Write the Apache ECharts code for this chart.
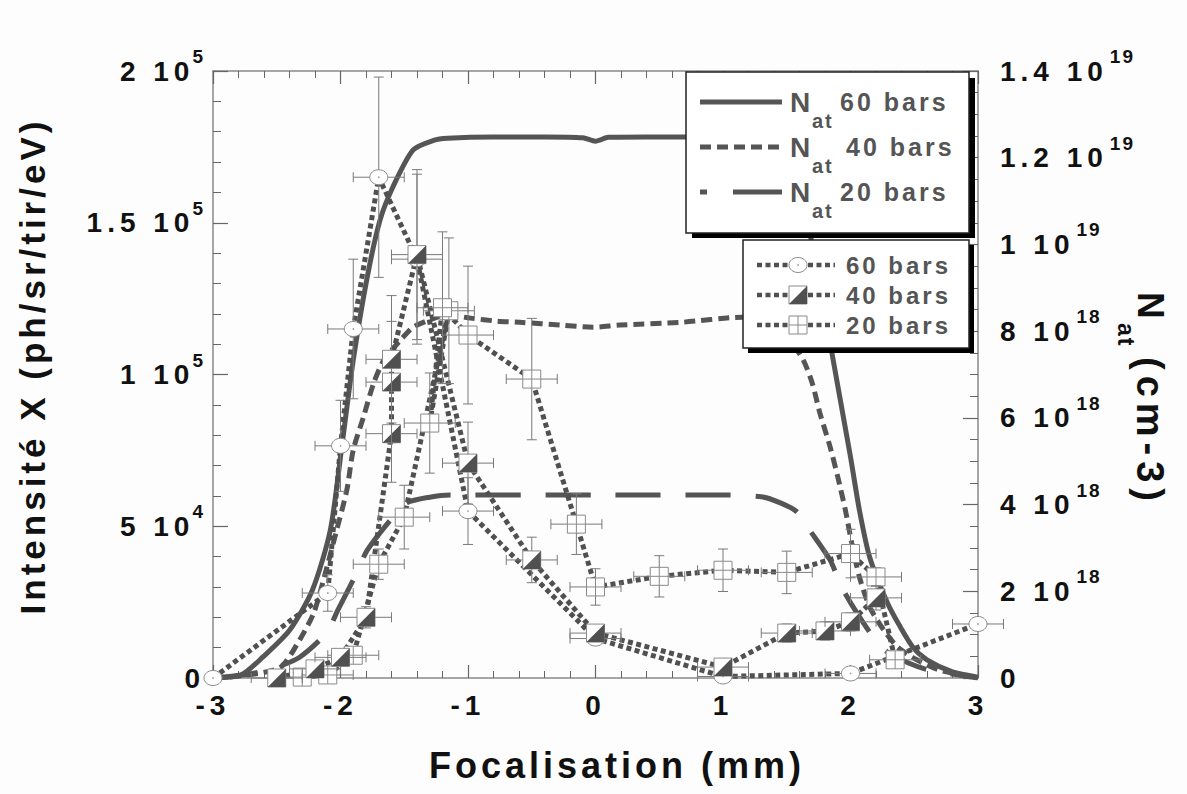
<!DOCTYPE html>
<html><head><meta charset="utf-8">
<script src="https://cdn.jsdelivr.net/npm/echarts@6/dist/echarts.min.js"></script>
<style>
html,body{margin:0;padding:0;background:#fdfdfd;}
#c{width:1187px;height:794px;}
</style></head><body><div id="c"></div>
<script>
// ---------- experimental data: X-ray intensity (ph/sr/tir/eV) vs focus (mm) ----------
const focal60 = [-3, -2.1, -2.0, -1.9, -1.7, -1.4, -1.0, 0, 1, 2, 3];
const intens60 = [0, 28000, 76500, 115000, 165000, 138000, 55000, 13000, 500, 1500, 17800];
const xErr60 = [0, 0.2, 0.2, 0.2, 0.2, 0.2, 0.2, 0.2, 0.2, 0.2, 0.2];
const yErr60 = [0, 6000, 15000, 23000, 33000, 28000, 11000, 2000, 1000, 1000, 2000];

const focal40 = [-2.5, -2.2, -2.0, -1.8, -1.6, -1.6, -1.6, -1.4, -1.0, -0.5, 0, 1, 1.5, 1.8, 2.0, 2.2];
const intens40 = [0, 3000, 6800, 20000, 80500, 97500, 105000, 139500, 70800, 38900, 14800, 3600, 14800, 15500, 18500, 26400];
const xErr40 = [0.2, 0.2, 0.2, 0.2, 0.2, 0.2, 0.2, 0.2, 0.2, 0.2, 0.2, 0.2, 0.2, 0.2, 0.2, 0.2];
const yErr40 = [800, 1500, 2000, 3500, 16000, 20000, 21000, 28000, 13500, 7500, 2000, 2000, 3000, 3000, 3000, 4000];

const focal20 = [-2.3, -2.1, -1.9, -1.7, -1.5, -1.15, -1.3, -1.2, -1.0, -0.5, -0.15, 0, 0.5, 1.0, 1.5, 2.0, 2.2, 2.35];
const intens20 = [300, 1000, 7500, 37500, 53000, 121000, 84000, 122000, 113000, 98500, 50700, 30000, 33500, 35500, 34800, 41000, 33300, 6000];
const xErr20 = [0.2, 0.2, 0.2, 0.2, 0.2, 0.2, 0.2, 0.2, 0.2, 0.2, 0.2, 0.2, 0.2, 0.2, 0.2, 0.2, 0.2, 0.2];
const yErr20 = [500, 1000, 2000, 5000, 10500, 24000, 16500, 25000, 22700, 20000, 10000, 6000, 6800, 7000, 7000, 8000, 3000, 2000];

// ---------- simulated atomic density N_at (cm-3) ----------
const natFocal60 = [-3, -2.78, -2.61, -2.4, -2.22, -2.08, -1.99, -1.9, -1.79, -1.69, -1.59, -1.43, -1.27, -1.16, -0.8, -0.4, -0.1, 0, 0.1, 0.4, 0.8, 1.2, 1.4, 1.55, 1.65, 1.75, 1.86, 2.0, 2.07, 2.15, 2.29, 2.39, 2.49, 2.6, 2.8, 3.0];
const nat60 = [0, 0.07e18, 0.48e18, 1.1e18, 2.03e18, 3.41e18, 5.33e18, 7.33e18, 9.25e18, 10.56e18, 11.32e18, 12.18e18, 12.4e18, 12.45e18, 12.48e18, 12.48e18, 12.46e18, 12.38e18, 12.47e18, 12.48e18, 12.48e18, 12.45e18, 12.2e18, 11.35e18, 10.6e18, 9.3e18, 7.4e18, 5.1e18, 3.87e18, 2.79e18, 1.73e18, 1.18e18, 0.71e18, 0.42e18, 0.14e18, 0.02e18];

const natFocal40 = [-3, -2.7, -2.47, -2.32, -2.21, -2.14, -2.03, -1.95, -1.9, -1.82, -1.74, -1.66, -1.53, -1.43, -1.3, -1.16, -0.98, -0.77, -0.57, -0.28, -0.02, 0.19, 0.66, 1.15, 1.4, 1.52, 1.63, 1.7, 1.76, 1.84, 1.9, 1.96, 2.01, 2.07, 2.15, 2.26, 2.37, 2.52, 2.7, 2.96];
const nat40 = [0, 0.08e18, 0.25e18, 0.88e18, 1.5e18, 2.19e18, 3.41e18, 4.34e18, 5.26e18, 6.02e18, 6.8e18, 7.33e18, 7.79e18, 8.09e18, 8.26e18, 8.37e18, 8.3e18, 8.23e18, 8.2e18, 8.14e18, 8.09e18, 8.14e18, 8.2e18, 8.32e18, 8.1e18, 7.8e18, 7.33e18, 6.8e18, 6.11e18, 5.33e18, 4.64e18, 3.87e18, 3.11e18, 2.33e18, 1.64e18, 1.11e18, 0.71e18, 0.42e18, 0.18e18, 0.02e18];

const natFocal20 = [-3, -2.7, -2.5, -2.32, -2.11, -2.02, -1.87, -1.79, -1.59, -1.48, -1.3, -1.14, -0.5, 0, 0.5, 1.0, 1.3, 1.45, 1.58, 1.68, 1.84, 1.93, 2.05, 2.21, 2.29, 2.45, 2.62, 3.0];
const nat20 = [0, 0.1e18, 0.25e18, 0.48e18, 1.04e18, 1.57e18, 2.44e18, 2.95e18, 3.71e18, 4.04e18, 4.17e18, 4.22e18, 4.22e18, 4.22e18, 4.22e18, 4.22e18, 4.18e18, 4.04e18, 3.83e18, 3.41e18, 2.72e18, 2.1e18, 1.5e18, 0.81e18, 0.6e18, 0.35e18, 0.18e18, 0];

// ---------- tick labels ----------
const xTickLabels = ['-3', '-2', '-1', '0', '1', '2', '3'];
const leftTickMant = ['0', '5 10', '1 10', '1.5 10', '2 10'];
const leftTickExp = ['', '4', '5', '5', '5'];
const rightTickMant = ['0', '2 10', '4 10', '6 10', '8 10', '1 10', '1.2 10', '1.4 10'];
const rightTickExp = ['', '18', '18', '18', '18', '19', '19', '19'];

// ---------- legend texts ----------
const natLegend = ['60 bars', '40 bars', '20 bars'];
const expLegend = ['60 bars', '40 bars', '20 bars'];

const FONT = '"Liberation Sans", Arial, Helvetica, sans-serif';
const DARK = '#555555';
const MARK_STROKE = '#8a8a8a';
const ERR = '#7a7a7a';
const TICK_SPACING = 5;

function pairs(xs, ys) { return xs.map((x, i) => [x, ys[i]]); }
function quads(xs, ys, xe, ye) { return xs.map((x, i) => [x, ys[i], xe[i], ye[i]]); }

function marker(kind, cx, cy) {
  if (kind === 'circle') {
    return { type: 'group', children: [
      { type: 'ellipse', shape: { cx: cx, cy: cy, rx: 9, ry: 7.5 }, style: { fill: '#fff', stroke: MARK_STROKE, lineWidth: 1 } },
      { type: 'circle', shape: { cx: cx, cy: cy, r: 0.8 }, style: { fill: '#999' } }
    ]};
  }
  if (kind === 'half') {
    return { type: 'group', children: [
      { type: 'rect', shape: { x: cx - 9, y: cy - 9, width: 18, height: 18 }, style: { fill: '#fff', stroke: MARK_STROKE, lineWidth: 1 } },
      { type: 'polygon', shape: { points: [[cx + 9, cy - 9], [cx + 9, cy + 9], [cx - 9, cy + 9]] }, style: { fill: '#505050' } }
    ]};
  }
  return { type: 'group', children: [
    { type: 'rect', shape: { x: cx - 9, y: cy - 9, width: 18, height: 18 }, style: { fill: '#fff', stroke: MARK_STROKE, lineWidth: 1 } },
    { type: 'line', shape: { x1: cx, y1: cy - 9, x2: cx, y2: cy + 9 }, style: { stroke: MARK_STROKE, lineWidth: 1 } },
    { type: 'line', shape: { x1: cx - 9, y1: cy, x2: cx + 9, y2: cy }, style: { stroke: MARK_STROKE, lineWidth: 1 } }
  ]};
}
function withZ(el, z) {
  el.z = z;
  if (el.children) el.children.forEach(c => withZ(c, z));
  return el;
}

function errLine(x1, y1, x2, y2) {
  return { type: 'line', shape: { x1: x1, y1: y1, x2: x2, y2: y2 }, style: { stroke: ERR, lineWidth: 1 } };
}

function makeRender(kind) {
  return function (params, api) {
    const x = api.value(0), y = api.value(1), xe = api.value(2), ye = api.value(3);
    const c = api.coord([x, y]);
    const ch = [];
    if (ye > 0) {
      const t = api.coord([x, y + ye]), b = api.coord([x, y - ye]);
      ch.push(errLine(c[0], t[1], c[0], b[1]), errLine(c[0] - 5, t[1], c[0] + 5, t[1]), errLine(c[0] - 5, b[1], c[0] + 5, b[1]));
    }
    if (xe > 0) {
      const l = api.coord([x - xe, y]), r = api.coord([x + xe, y]);
      ch.push(errLine(l[0], c[1], r[0], c[1]), errLine(l[0], c[1] - 5, l[0], c[1] + 5), errLine(r[0], c[1] - 5, r[0], c[1] + 5));
    }
    ch.push(marker(kind, c[0], c[1]));
    return { type: 'group', children: ch };
  };
}

const DOT = [5, 3.5];
function dottedLine(name, xs, ys, z) {
  return { name: name, type: 'line', xAxisIndex: 0, yAxisIndex: 0, data: pairs(xs, ys), symbol: 'none', silent: true, z: z,
    lineStyle: { color: '#505050', width: 5, type: DOT, cap: 'butt' } };
}
function natLine(name, xs, ys, dash) {
  return { name: name, type: 'line', xAxisIndex: 0, yAxisIndex: 1, data: pairs(xs, ys), symbol: 'none', smooth: 0.25, silent: true, z: 2,
    lineStyle: { color: DARK, width: 5, type: dash, cap: 'butt' } };
}
function markSeries(name, kind, xs, ys, xe, ye, z) {
  return { name: name, type: 'custom', xAxisIndex: 0, yAxisIndex: 0, data: quads(xs, ys, xe, ye), encode: { x: 0, y: 1 },
    renderItem: makeRender(kind), clip: false, silent: true, z: z };
}

const tickRich = {
  b: { fontSize: 28, fontWeight: 'bold', fontFamily: FONT, color: '#111', lineHeight: 48 },
  s: { fontSize: 19, fontWeight: 'bold', fontFamily: FONT, color: '#111', lineHeight: 14, verticalAlign: 'top', padding: [0, 0, 0, 2] }
};
function richLabel(m, e) { return e ? '{b|' + m + '}{s|' + e + '}' : '{b|' + m + '}'; }

// ---------- legends & axis names (graphic) ----------
const LG_TEXT = '#555';
function txt(x, y, s, size) {
  return { type: 'text', x: x, y: y, z: 101, style: { text: s, font: 'bold ' + size + 'px ' + FONT, fill: LG_TEXT, align: 'left', verticalAlign: 'middle' } };
}
function seg(x1, y1, x2, y2, w, dash, color) {
  return { type: 'line', z: 101, shape: { x1: x1, y1: y1, x2: x2, y2: y2 }, style: { stroke: color || DARK, lineWidth: w, lineDash: dash || null } };
}
const legendRows1 = [102, 147, 192];
const legendRows2 = [265, 295, 325];
const graphics = [
  { type: 'rect', z: 100, shape: { x: 692, y: 78, width: 283, height: 160 }, style: { fill: '#000' } },
  { type: 'rect', z: 100, shape: { x: 686, y: 72, width: 283, height: 161 }, style: { fill: '#fff', stroke: '#222', lineWidth: 1.5 } },
  seg(700, legendRows1[0], 782, legendRows1[0], 5),
  seg(700, legendRows1[1], 782, legendRows1[1], 5, [11, 6]),
  seg(700, legendRows1[2], 707, legendRows1[2], 5),
  seg(733, legendRows1[2], 782, legendRows1[2], 5),
  { type: 'rect', z: 100, shape: { x: 748, y: 245, width: 226, height: 108 }, style: { fill: '#000' } },
  { type: 'rect', z: 100, shape: { x: 743, y: 240, width: 226, height: 108 }, style: { fill: '#fff', stroke: '#222', lineWidth: 1.5 } },
  { type: 'text', x: 617, y: 765, style: { text: 'Focalisation (mm)', font: 'bold 36px ' + FONT, fill: '#111', align: 'center', verticalAlign: 'middle' } },
  { type: 'text', x: 32, y: 366, rotation: Math.PI / 2, style: { text: 'Intensité X (ph/sr/tir/eV)', font: 'bold 35px ' + FONT, fill: '#111', align: 'center', verticalAlign: 'middle' } },
  { type: 'text', x: 1150, y: 292, rotation: -Math.PI / 2, style: { text: 'N', font: 'bold 37px ' + FONT, fill: '#111', align: 'left', verticalAlign: 'middle' } },
  { type: 'text', x: 1126, y: 323, rotation: -Math.PI / 2, style: { text: 'at', font: 'bold 23px ' + FONT, fill: '#111', align: 'left', verticalAlign: 'middle' } },
  { type: 'text', x: 1150, y: 357, rotation: -Math.PI / 2, style: { text: '(cm-3)', font: 'bold 38px ' + FONT, fill: '#111', align: 'left', verticalAlign: 'middle' } }
];
natLegend.forEach((s, i) => {
  const y = legendRows1[i];
  graphics.push(txt(790, y, 'N', 28), txt(812, y + 19, 'at', 20), txt(i === 1 ? 846 : 840, y, s, 25));
});
const kinds = ['circle', 'half', 'grid'];
expLegend.forEach((s, i) => {
  const y = legendRows2[i];
  graphics.push(seg(757, y, 835, y, 4.5, DOT, '#505050'));
  graphics.push(withZ(marker(kinds[i], 798, y), 102));
  graphics.push(txt(846, y, s, 24));
});

const chart = echarts.init(document.getElementById('c'), null, { renderer: 'svg' });
const axisLine = { show: true, onZero: false, lineStyle: { color: '#888', width: 1.5 } };
const tickStyle = { color: '#666', width: 1.2 };
chart.setOption({
  backgroundColor: '#fdfdfd',
  animation: false,
  grid: { left: 213, top: 71, width: 765, height: 607, containLabel: false },
  xAxis: [
    { type: 'value', min: -3, max: 3, interval: 1, position: 'bottom', axisLine: axisLine,
      axisTick: { show: true, inside: true, length: 13, lineStyle: tickStyle },
      minorTick: { show: true, splitNumber: 5, length: 7, lineStyle: { color: '#666', width: 1 } },
      splitLine: { show: false },
      axisLabel: { margin: 13, fontSize: 28, fontWeight: 'bold', fontFamily: FONT, color: '#111', formatter: (v, i) => xTickLabels[i] } },
    { type: 'value', min: -3, max: 3, interval: 1, position: 'top', axisLine: axisLine,
      axisTick: { show: true, inside: true, length: 13, lineStyle: tickStyle },
      minorTick: { show: true, splitNumber: 5, length: 7, lineStyle: { color: '#666', width: 1 } },
      splitLine: { show: false }, axisLabel: { show: false } }
  ],
  yAxis: [
    { type: 'value', min: 0, max: 200000, interval: 50000, position: 'left', axisLine: axisLine,
      axisTick: { show: true, inside: true, length: 15, lineStyle: tickStyle },
      minorTick: { show: true, splitNumber: 5, length: 8, lineStyle: { color: '#666', width: 1 } },
      splitLine: { show: false },
      axisLabel: { margin: 8, formatter: (v, i) => richLabel(leftTickMant[i], leftTickExp[i]), rich: tickRich } },
    { type: 'value', min: 0, max: 1.4e19, interval: 2e18, position: 'right', axisLine: axisLine,
      axisTick: { show: true, inside: true, length: 15, lineStyle: tickStyle },
      minorTick: { show: true, splitNumber: 4, length: 8, lineStyle: { color: '#666', width: 1 } },
      splitLine: { show: false },
      axisLabel: { margin: 22, formatter: (v, i) => richLabel(rightTickMant[i], rightTickExp[i]), rich: tickRich } }
  ],
  series: [
    natLine('Nat 60 bars', natFocal60, nat60, 'solid'),
    natLine('Nat 40 bars', natFocal40, nat40, [11, 6]),
    natLine('Nat 20 bars', natFocal20, nat20, [45, 25]),
    dottedLine('60 bars line', focal60, intens60, 3),
    dottedLine('40 bars line', focal40, intens40, 3),
    dottedLine('20 bars line', focal20, intens20, 3),
    markSeries('60 bars', 'circle', focal60, intens60, xErr60, yErr60, 4),
    markSeries('20 bars', 'grid', focal20, intens20, xErr20, yErr20, 5),
    markSeries('40 bars', 'half', focal40, intens40, xErr40, yErr40, 6)
  ],
  graphic: { elements: graphics }
});

// wide letter spacing of the original typesetting, then re-join exponents to their mantissa
function fsOf(t) { return parseFloat(getComputedStyle(t).fontSize) || 12; }
function shiftX(t, dx) {
  if (Math.abs(dx) < 0.5) return;
  const x = parseFloat(t.getAttribute('x')) || 0;
  t.setAttribute('x', x + dx);
}
function applySpacing() {
  const texts = Array.from(document.querySelectorAll('#c svg text'));
  texts.forEach(t => {
    const fs = fsOf(t);
    const s = t.textContent;
    let ls = 3;
    if (s === '(cm-3)') ls = 6;
    else if (fs >= 34) ls = 4;
    else if (fs === 28) ls = (s === 'N') ? 0 : TICK_SPACING;
    else if (fs <= 23) ls = 2;
    t.style.letterSpacing = ls + 'px';
  });
  const bases = texts.filter(t => fsOf(t) === 28 && t.textContent.indexOf('10') >= 0);
  texts.filter(t => fsOf(t) === 19).forEach(sup => {
    const sr = sup.getBoundingClientRect();
    let best = null, bd = 1e9;
    bases.forEach(b => {
      const br = b.getBoundingClientRect();
      const dy = Math.abs((br.top + br.bottom) / 2 - (sr.top + sr.bottom) / 2);
      const dx = Math.abs((br.left + br.right) / 2 - (sr.left + sr.right) / 2);
      if (dy < 30 && dx < 150 && dx + dy < bd) { bd = dx + dy; best = b; }
    });
    if (!best) return;
    const br = best.getBoundingClientRect();
    if (br.left > 594) {
      shiftX(sup, br.right + 2 - sr.left);          // right axis: exponent follows mantissa
    } else {
      shiftX(best, sr.left + 2 - br.right);         // left axis: mantissa closes up to exponent
    }
  });
}
applySpacing();
chart.on('finished', applySpacing);
setTimeout(applySpacing, 50);
setTimeout(applySpacing, 300);
</script></body></html>
